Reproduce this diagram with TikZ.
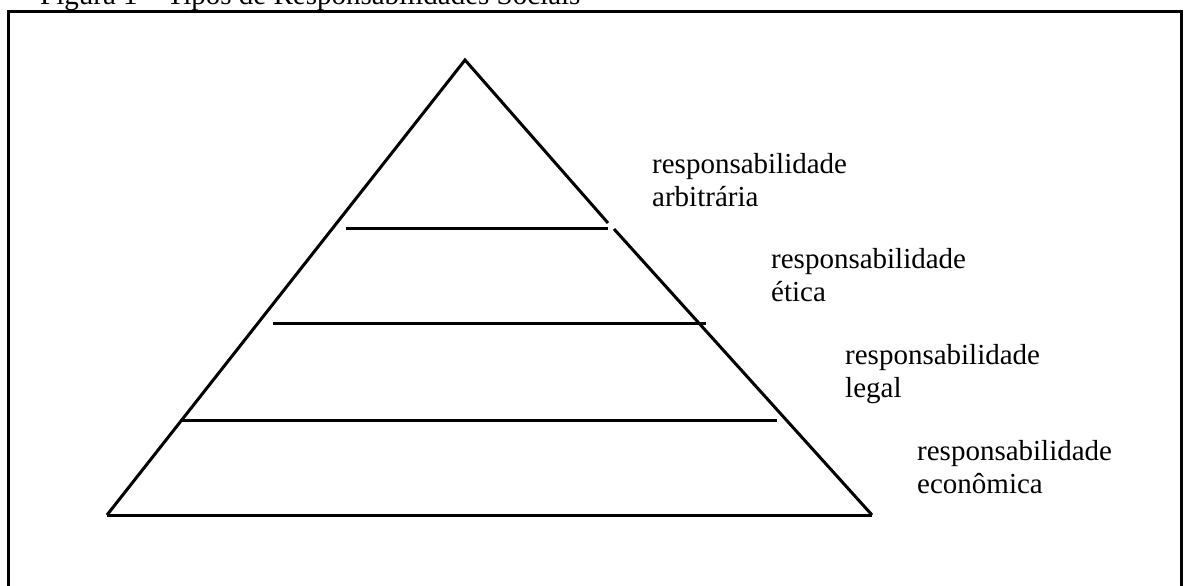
\documentclass[tikz,border=0pt]{standalone}
\usepackage{fontspec}
\setmainfont{Liberation Serif}
\begin{document}
\begin{tikzpicture}[x=1pt,y=-1pt,
  edge/.style={line width=3pt,line cap=butt,line join=miter},
  frameline/.style={line width=3pt},
  lbl/.style={anchor=base west,align=left,inner sep=0pt,font=\fontsize{29}{33}\selectfont}]
\useasboundingbox (0,0) rectangle (1186,586);
% header (clipped by the page)
\node[anchor=base west,inner sep=0pt,font=\fontsize{29}{33}\selectfont] (title) at (40,5) {Figura 1 -- Tipos de Responsabilidades Sociais};
% frame
\draw[frameline] (8,600) -- (8,12) -- (1181,12) -- (1181,600);
% pyramid
\coordinate (apex) at (465,60);
\coordinate (bl) at (107,515);
\coordinate (br) at (872,515);
\coordinate (gapA) at (608,223);
\coordinate (gapB) at (614,229);
\draw[edge] (bl) -- (apex) -- (gapA);
\draw[edge] (gapB) -- (br);
\draw[edge] (bl) -- (br);
% level lines
\coordinate (l1a) at (346,228); \coordinate (l1b) at (608,228);
\coordinate (l2a) at (273,323); \coordinate (l2b) at (706,323);
\coordinate (l3a) at (180,420); \coordinate (l3b) at (777,420);
\draw[edge] (l1a) -- (l1b);
\draw[edge] (l2a) -- (l2b);
\draw[edge] (l3a) -- (l3b);
% labels (anchor = baseline of the last line)
\node[lbl] (arb) at (652,206) {responsabilidade\\arbitrária};
\node[lbl] (eti) at (771,301) {responsabilidade\\ética};
\node[lbl] (leg) at (845,397) {responsabilidade\\legal};
\node[lbl] (eco) at (917,493) {responsabilidade\\econômica};
\end{tikzpicture}
\end{document}
